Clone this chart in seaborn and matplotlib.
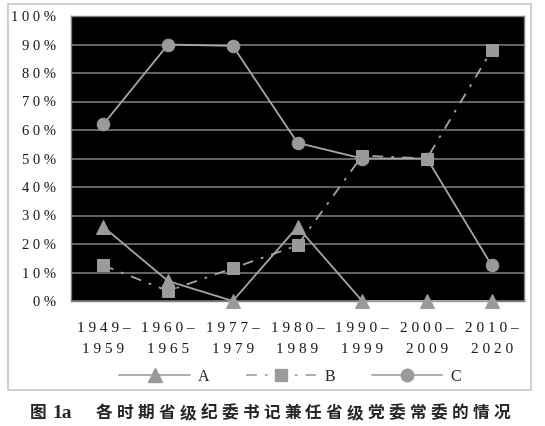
import seaborn as sns
import pandas as pd
import matplotlib.pyplot as plt
from matplotlib.patches import Rectangle
from matplotlib.lines import Line2D

periods = ["1949–1959", "1960–1965", "1977–1979", "1980–1989",
           "1990–1999", "2000–2009", "2010–2020"]
a_vals = [26, 7, 0, 26, 0, 0, 0]
b_vals = [12.5, 3.5, 11.5, 19.5, 51, 50, 88]
c_vals = [62, 90, 89.5, 55.5, 50, 50, 12.5]
series_names = ["A", "B", "C"]
caption_fig = "图"
caption_num = "1a"
caption_text = "各时期省级纪委书记兼任省级党委常委的情况"


def spaced(s):
    return " ".join(s)


df = pd.DataFrame({"period": periods * 3,
                   "value": [v / 100 for v in a_vals + b_vals + c_vals],
                   "series": [n for n in series_names for _ in periods]})

sns.set_style("white")
plt.rcParams["font.family"] = ["Liberation Serif", "Noto Sans CJK SC", "DejaVu Sans"]

W, H = 545, 426
fig = plt.figure(figsize=(W / 100, H / 100), dpi=100)
fig.patch.set_facecolor("white")
fig.patches.append(Rectangle((8 / W, 1 - 390 / H), 523 / W, 386 / H,
                             transform=fig.transFigure, fill=False,
                             edgecolor="#cfcfcf", lw=1.4))

ax = fig.add_axes([71 / W, 1 - 301 / H, 453 / W, 285 / H])
ax.set_facecolor("black")

gray_line = "#a6a6a6"
gray_mark = "#9a9a9a"
styles = {
    "A": dict(marker="^", markersize=10, linestyle="-"),
    "B": dict(marker="s", markersize=8.5, linestyle=(0, (6, 4.5, 1.5, 4.5))),
    "C": dict(marker="o", markersize=9, linestyle="-"),
}
for name in series_names:
    sub = df[df["series"] == name]
    sns.lineplot(data=sub, x="period", y="value", ax=ax, color=gray_line,
                 lw=1.3, markerfacecolor=gray_mark, markeredgecolor=gray_mark,
                 sort=False, clip_on=False, zorder=3, **styles[name])

ax.set_xlim(-0.5, 6.5)
ax.set_ylim(0, 1)
ax.set_yticks([i / 10 for i in range(11)])
ax.set_yticklabels([spaced(f"{i * 10}%") for i in range(11)], fontsize=10.5,
                   color="#1a1a1a")
ax.set_xticks(range(len(periods)))
ax.set_xticklabels([spaced(p.split("–")[0] + "–") + "\n" + spaced(p.split("–")[1])
                    for p in periods], fontsize=11, color="#1a1a1a",
                   linespacing=1.8)
ax.tick_params(axis="x", length=0, pad=15)
ax.tick_params(axis="y", length=0, pad=11)
ax.grid(axis="y", color="#808080", lw=1.1)
ax.set_axisbelow(True)
for sp in ax.spines.values():
    sp.set_color("#7f7f7f")
    sp.set_linewidth(1)
ax.set_xlabel("")
ax.set_ylabel("")
if ax.get_legend():
    ax.get_legend().remove()

handles = [Line2D([], [], color=gray_line, lw=1.3, markerfacecolor=gray_mark,
                  markeredgecolor=gray_mark, **styles[n]) for n in series_names]
fig.legend(handles, series_names, loc="center", ncol=3,
           bbox_to_anchor=(290 / W, 1 - 377 / H), frameon=False,
           fontsize=11.5, handlelength=4.4, columnspacing=2.3, handletextpad=0.5)

# caption below the box
cy = 1 - 413 / H
fig.text(30 / W, cy, caption_fig, fontsize=12, fontweight="bold",
         family=["Noto Sans CJK SC"], va="center", ha="left")
fig.text(52 / W, cy, caption_num, fontsize=14, fontweight="bold",
         family=["Liberation Serif"], va="center", ha="left")
for i, ch in enumerate(caption_text):
    fig.text((96 + i * 20.9) / W, cy, ch, fontsize=12, fontweight="bold",
             family=["Noto Sans CJK SC"], va="center", ha="left")

fig.savefig("out.png", dpi=100)
